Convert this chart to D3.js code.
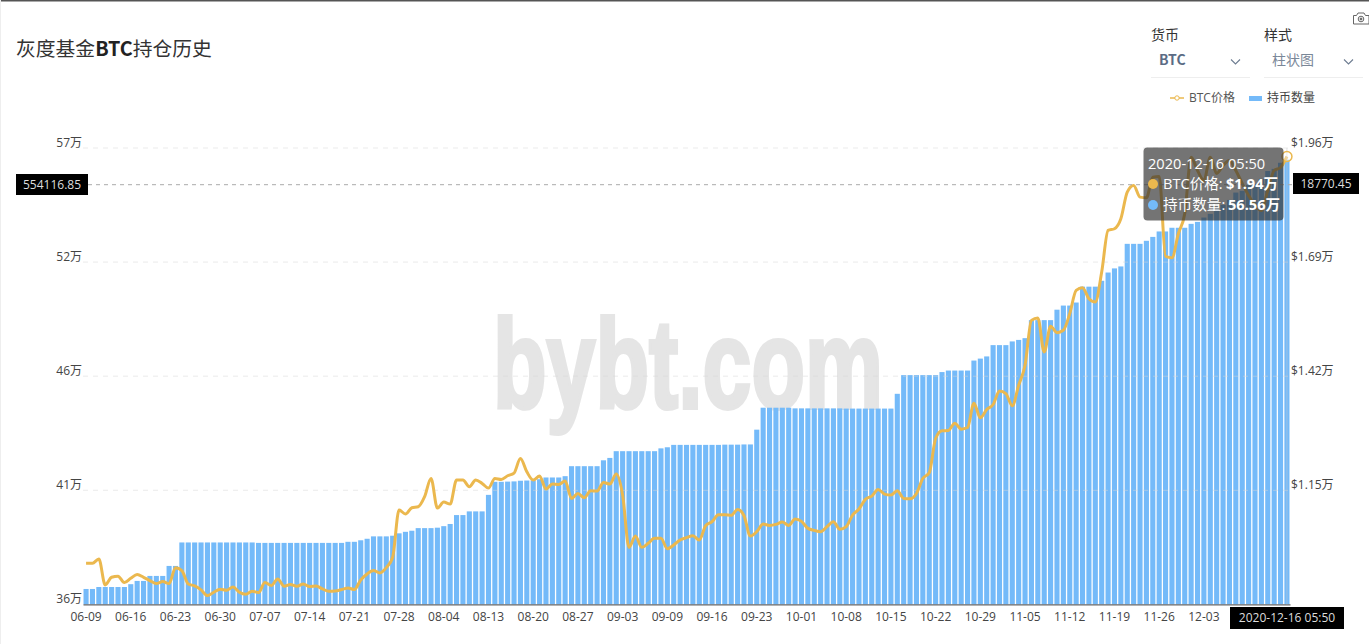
<!DOCTYPE html>
<html><head><meta charset="utf-8">
<script src="https://cdn.jsdelivr.net/npm/d3@7/dist/d3.min.js"></script>
<style>
html,body{margin:0;padding:0;background:#fff;overflow:hidden}
svg{display:block}
text{font-family:"Open Sans","Noto Sans CJK SC",sans-serif}
</style></head><body>
<svg id="c" width="1369" height="644"></svg>
<script>
const titleParts = ["灰度基金","BTC","持仓历史"];
const xTickLabels = ["06-09","06-16","06-23","06-30","07-07","07-14","07-21","07-28","08-04","08-13","08-20","08-27","09-03","09-09","09-16","09-23","10-01","10-08","10-15","10-22","10-29","11-05","11-12","11-19","11-26","12-03"];
const leftTickValues = [361000,413500,466000,518500,571000];
const leftTickLabels = ["36万","41万","46万","52万","57万"];
const rightTickValues = [11500,14200,16900,19600];
const rightTickLabels = ["$1.15万","$1.42万","$1.69万","$1.96万"];
const holdings = [
368100,368100,369000,369000,369000,369000,369000,370300,371800,371800,
374100,374100,374100,378700,378700,389500,389500,389500,389500,389500,
389500,389500,389500,389500,389500,389500,389500,389300,389300,389300,
389300,389300,389300,389300,389300,389300,389300,389300,389300,389300,
389300,389800,389800,390500,391200,392300,392300,392300,392600,393700,
394400,394900,396100,396100,396100,396300,397000,398000,402100,402100,
403800,403800,403800,411400,417400,417400,417500,417600,417900,418000,
418100,418600,419400,419400,419400,420000,424600,424600,424600,424600,
424600,427300,428400,431500,431500,431500,431500,431500,431500,431500,
432800,433300,434400,434400,434400,434400,434400,434400,434400,434400,
434500,434500,434500,434600,434600,441400,451500,451500,451500,451500,
451500,451200,451200,451200,451200,451200,451200,451200,451200,451100,
451100,451100,451100,451100,451100,451100,451100,457900,466500,466500,
466500,466500,466500,466500,467900,468600,468600,468600,468600,473200,
474100,475100,480300,480300,480300,482000,482700,483500,491800,491800,
491800,491800,496600,498500,498500,499900,507200,507200,507200,509900,
513700,515600,516500,526900,526900,526900,528300,530100,532600,532600,
534300,534300,534300,536100,537000,539000,540700,543000,544800,547100,
550500,551300,554000,554500,556800,560400,561400,564200,565600];
const prices = [
9773,9773,9875,9261,9442,9466,9316,9418,9505,9442,
9363,9292,9340,9292,9670,9600,9285,9237,9143,9009,
9088,9159,9135,9214,9088,9040,9111,9080,9316,9245,
9403,9229,9269,9229,9285,9221,9237,9166,9111,9119,
9151,9190,9151,9379,9521,9600,9544,9670,9915,11033,
10939,11088,11112,11348,11782,11080,11222,11175,11742,11742,
11584,11742,11663,11552,11781,11757,11844,11907,12254,11938,
11742,11836,11529,11647,11639,11718,11308,11426,11324,11489,
11482,11686,11647,11883,11387,10150,10418,10150,10245,10363,
10363,10119,10206,10324,10379,10426,10324,10662,10757,10922,
10922,10907,11048,10899,10418,10521,10702,10670,10694,10749,
10670,10820,10765,10599,10552,10521,10639,10757,10576,10639,
10914,11056,11285,11363,11521,11411,11387,11489,11308,11300,
11426,11781,11915,12726,12907,12915,13088,12947,12986,13561,
13214,13411,13530,13852,13789,13498,13986,14459,15522,15578,
14774,15381,15231,15286,15680,16231,16294,16034,15956,16665,
17650,17689,17926,18556,18713,18438,18422,18910,18926,17035,
17004,17571,18044,19383,19068,18831,19383,18997,19186,19304,
19068,18761,18477,18241,18122,18595,19068,19139,19399];
const crossLeftValue = 554116.85, crossLeftText = "554116.85", crossRightText = "18770.45", crossDate = "2020-12-16 05:50";
const tipPrice = "$1.94万", tipHolding = "56.56万";

const barColor = "#74baf9", lineColor = "#ebb84e", ink = "#444";
const svg = d3.select("#c");
const x = d3.scaleBand().domain(d3.range(holdings.length)).range([83,1290]).paddingInner(0.2).paddingOuter(0.08);
const yL = d3.scaleLinear().domain([361000,571000]).range([604.4,148]);
const yR = d3.scaleLinear().domain([8800,19600]).range([604.4,148]);
const cx = i => x(i)+x.bandwidth()/2;

// frame
svg.append("rect").attr("x",0).attr("y",0).attr("width",1369).attr("height",1.5).attr("fill","#555");
svg.append("rect").attr("x",0).attr("y",0).attr("width",1).attr("height",644).attr("fill","#eee");

// watermark
svg.append("text").text("bybt.com").attr("x",493).attr("y",408)
  .attr("textLength",390).attr("lengthAdjust","spacingAndGlyphs")
  .style("font-family",'"Liberation Sans Narrow","Liberation Sans",sans-serif').style("font-weight",700).style("font-size","126px")
  .attr("fill","#e5e5e5").attr("stroke","#e5e5e5").attr("stroke-width",4);

// bars
svg.append("g").selectAll("rect").data(holdings).join("rect")
  .attr("x",(d,i)=>x(i)).attr("width",x.bandwidth())
  .attr("y",d=>yL(d)).attr("height",d=>604.4-yL(d)).attr("fill",barColor);

// grid + left axis
const gL = svg.append("g").attr("transform","translate(83,0)")
  .call(d3.axisLeft(yL).tickValues(leftTickValues).tickSize(0).tickPadding(1).tickFormat((d,i)=>leftTickLabels[i]));
gL.select(".domain").remove();
gL.selectAll("text").attr("dy","-2").attr("fill",ink).style("font-size","12px");
svg.append("g").selectAll("line").data(leftTickValues.slice(1)).join("line")
  .attr("x1",83).attr("x2",1290).attr("y1",d=>yL(d)).attr("y2",d=>yL(d))
  .attr("stroke","#d8d8d8").attr("stroke-opacity",0.5).attr("stroke-dasharray","5,5");

// right axis
const gR = svg.append("g").attr("transform","translate(1290,0)")
  .call(d3.axisRight(yR).tickValues(rightTickValues).tickSize(0).tickPadding(1).tickFormat((d,i)=>rightTickLabels[i]));
gR.select(".domain").remove();
gR.selectAll("text").attr("dy","-2").attr("fill",ink).style("font-size","12px");

// bottom axis
const gB = svg.append("g").attr("transform","translate(0,604.4)")
  .call(d3.axisBottom(x).tickValues(xTickLabels.map((d,i)=>i*7)).tickSize(0).tickPadding(8).tickFormat(d=>xTickLabels[d/7]));
gB.select(".domain").attr("stroke","#666").attr("stroke-width",1.2);
gB.selectAll("text").attr("fill",ink).style("font-size","12px");

// line
svg.append("path").datum(prices).attr("fill","none").attr("stroke",lineColor).attr("stroke-width",3)
  .attr("stroke-linejoin","round")
  .attr("d",d3.line().x((d,i)=>cx(i)).y(d=>yR(d)).curve(d3.curveMonotoneX));

// crosshair
const last = holdings.length-1, hy = yL(crossLeftValue);
svg.append("line").attr("x1",88).attr("x2",1293).attr("y1",hy).attr("y2",hy)
  .attr("stroke","#aaa").attr("stroke-dasharray","4,4");
svg.append("line").attr("x1",cx(last)).attr("x2",cx(last)).attr("y1",148).attr("y2",604.4)
  .attr("stroke","#ccc").attr("stroke-opacity",0.5);
svg.append("circle").attr("cx",cx(last)).attr("cy",yR(prices[last])).attr("r",5)
  .attr("fill","#fff").attr("fill-opacity",0.35).attr("stroke",lineColor).attr("stroke-width",1.5);
function tag(x0,y0,w,h,t){
  svg.append("rect").attr("x",x0).attr("y",y0).attr("width",w).attr("height",h).attr("fill","#000");
  svg.append("text").text(t).attr("x",x0+w/2).attr("y",y0+h/2+4).attr("text-anchor","middle").attr("fill","#ddd").style("font-size","12px");
}
tag(16,174,72,21,crossLeftText);
tag(1293,173,66,21,crossRightText);
tag(1230,607,114,22,crossDate);

// tooltip
svg.append("rect").attr("x",1143.5).attr("y",147.5).attr("width",140).attr("height",73).attr("rx",4)
  .attr("fill","rgb(50,50,50)").attr("fill-opacity",0.68);
const tipText = (tx,ty,t,w)=>svg.append("text").text(t).attr("x",tx).attr("y",ty).attr("fill","#fff").style("font-size","14.6px").style("font-weight",w||400);
tipText(1148,169,crossDate);
svg.append("circle").attr("cx",1153).attr("cy",184).attr("r",5).attr("fill",lineColor);
tipText(1163,189,"BTC价格:");
tipText(1226,189,tipPrice,700);
svg.append("circle").attr("cx",1153).attr("cy",205).attr("r",5).attr("fill",barColor);
tipText(1163,210,"持币数量:");
tipText(1228,210,tipHolding,700);

// title
const tt = svg.append("text").attr("x",16).attr("y",56).attr("fill","#333").style("font-size","19.8px")
  .style("font-family",'"Noto Sans CJK SC",sans-serif');
titleParts.forEach((p,i)=>tt.append("tspan").text(p).style("font-weight",i===1?700:400).attr("fill",i===1?"#222":"#333"));

// selects
function sel(x0,label,val,bold,col){
  svg.append("text").text(label).attr("x",x0).attr("y",40).attr("fill","#333").style("font-size","14px").style("font-family",'"Noto Sans CJK SC",sans-serif');
  svg.append("text").text(val).attr("x",x0+8).attr("y",65).attr("fill",col).style("font-size","14px").style("font-weight",bold?700:400).style("font-family",'"Noto Sans CJK SC",sans-serif');
  svg.append("line").attr("x1",x0).attr("x2",x0+99).attr("y1",77.5).attr("y2",77.5).attr("stroke","#eee");
  svg.append("path").attr("d",`M${x0+80},59.5l4.5,4.5l4.5,-4.5`).attr("fill","none").attr("stroke","#6d7c91").attr("stroke-width",1.1);
}
sel(1151,"货币","BTC",true,"#5b6b84");
sel(1264,"样式","柱状图",false,"#7a8798");

// legend
svg.append("line").attr("x1",1170).attr("x2",1184).attr("y1",98).attr("y2",98).attr("stroke",lineColor).attr("stroke-width",1.5);
svg.append("circle").attr("cx",1177).attr("cy",98).attr("r",2.2).attr("fill","#fff").attr("stroke",lineColor);
svg.append("text").text("BTC价格").attr("x",1189).attr("y",102).attr("fill","#555").style("font-size","12px");
svg.append("rect").attr("x",1249).attr("y",96).attr("width",13).attr("height",5).attr("fill",barColor);
svg.append("text").text("持币数量").attr("x",1267).attr("y",102).attr("fill","#444").style("font-size","12px");

// camera icon
const cam = svg.append("g").attr("fill","none").attr("stroke","#666").attr("stroke-width",1);
cam.append("path").attr("d","M1353.5,15.5h3l1.5,-2.5h6l1.5,2.5h3.5v8.5h-15.5z");
cam.append("circle").attr("cx",1361).attr("cy",19).attr("r",2.8);
cam.append("circle").attr("cx",1361).attr("cy",19).attr("r",1).attr("fill","#666");
</script>
</body></html>
